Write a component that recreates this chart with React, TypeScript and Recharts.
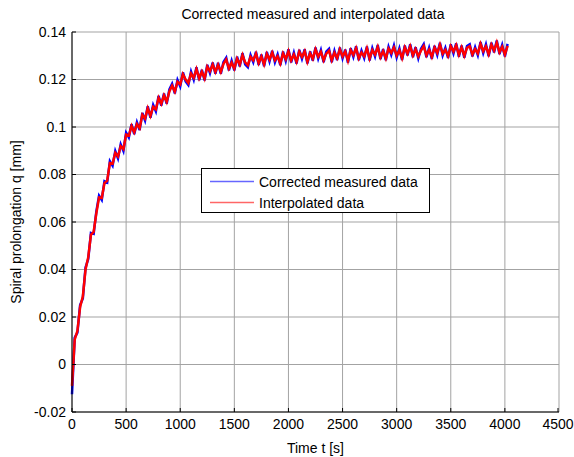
import React from 'react';
import { LineChart, Line, XAxis, YAxis, CartesianGrid, Legend } from 'recharts';

// sample times [s]
const times = [
  0, 25, 50, 75, 100, 125, 150, 175, 200, 225,
  250, 275, 300, 325, 350, 375, 400, 425, 450, 475,
  500, 525, 550, 575, 600, 625, 650, 675, 700, 725,
  750, 775, 800, 825, 850, 875, 900, 925, 950, 975,
  1000, 1025, 1050, 1075, 1100, 1125, 1150, 1175, 1200, 1225,
  1250, 1275, 1300, 1325, 1350, 1375, 1400, 1425, 1450, 1475,
  1500, 1525, 1550, 1575, 1600, 1625, 1650, 1675, 1700, 1725,
  1750, 1775, 1800, 1825, 1850, 1875, 1900, 1925, 1950, 1975,
  2000, 2025, 2050, 2075, 2100, 2125, 2150, 2175, 2200, 2225,
  2250, 2275, 2300, 2325, 2350, 2375, 2400, 2425, 2450, 2475,
  2500, 2525, 2550, 2575, 2600, 2625, 2650, 2675, 2700, 2725,
  2750, 2775, 2800, 2825, 2850, 2875, 2900, 2925, 2950, 2975,
  3000, 3025, 3050, 3075, 3100, 3125, 3150, 3175, 3200, 3225,
  3250, 3275, 3300, 3325, 3350, 3375, 3400, 3425, 3450, 3475,
  3500, 3525, 3550, 3575, 3600, 3625, 3650, 3675, 3700, 3725,
  3750, 3775, 3800, 3825, 3850, 3875, 3900, 3925, 3950, 3975,
  4000, 4025,
];

// corrected measured data [mm]
const measured = [
  -0.0125, 0.0113, 0.0134, 0.0250, 0.0278, 0.0408, 0.0444, 0.0554, 0.0550, 0.0645,
  0.0711, 0.0693, 0.0772, 0.0766, 0.0856, 0.0837, 0.0899, 0.0868, 0.0927, 0.0899,
  0.0976, 0.0956, 0.1012, 0.0970, 0.1020, 0.0987, 0.1059, 0.1027, 0.1087, 0.1039,
  0.1093, 0.1066, 0.1131, 0.1090, 0.1141, 0.1098, 0.1158, 0.1182, 0.1141, 0.1198,
  0.1171, 0.1230, 0.1192, 0.1177, 0.1233, 0.1199, 0.1252, 0.1197, 0.1241, 0.1196,
  0.1262, 0.1227, 0.1271, 0.1224, 0.1270, 0.1224, 0.1274, 0.1292, 0.1238, 0.1279,
  0.1238, 0.1296, 0.1255, 0.1311, 0.1264, 0.1252, 0.1303, 0.1273, 0.1317, 0.1261,
  0.1305, 0.1256, 0.1316, 0.1276, 0.1321, 0.1273, 0.1306, 0.1260, 0.1318, 0.1278,
  0.1327, 0.1272, 0.1313, 0.1267, 0.1325, 0.1287, 0.1327, 0.1267, 0.1318, 0.1279,
  0.1335, 0.1288, 0.1324, 0.1273, 0.1317, 0.1329, 0.1273, 0.1321, 0.1282, 0.1335,
  0.1289, 0.1326, 0.1271, 0.1332, 0.1295, 0.1340, 0.1281, 0.1322, 0.1290, 0.1339,
  0.1280, 0.1332, 0.1297, 0.1345, 0.1286, 0.1328, 0.1281, 0.1338, 0.1304, 0.1343,
  0.1293, 0.1331, 0.1282, 0.1343, 0.1301, 0.1348, 0.1294, 0.1336, 0.1289, 0.1330,
  0.1349, 0.1294, 0.1333, 0.1287, 0.1342, 0.1304, 0.1355, 0.1301, 0.1333, 0.1291,
  0.1348, 0.1310, 0.1352, 0.1296, 0.1343, 0.1292, 0.1341, 0.1348, 0.1297, 0.1336,
  0.1302, 0.1358, 0.1311, 0.1348, 0.1298, 0.1355, 0.1314, 0.1364, 0.1307, 0.1346,
  0.1297, 0.1350,
];

// interpolated data [mm]
const interpolated = [
  -0.0090, 0.0105, 0.0142, 0.0242, 0.0286, 0.0400, 0.0452, 0.0546, 0.0558, 0.0637,
  0.0703, 0.0701, 0.0764, 0.0774, 0.0848, 0.0845, 0.0891, 0.0876, 0.0919, 0.0907,
  0.0968, 0.0964, 0.1004, 0.0978, 0.1012, 0.0995, 0.1051, 0.1035, 0.1079, 0.1047,
  0.1085, 0.1074, 0.1123, 0.1098, 0.1133, 0.1106, 0.1150, 0.1174, 0.1149, 0.1190,
  0.1179, 0.1222, 0.1200, 0.1185, 0.1225, 0.1207, 0.1244, 0.1205, 0.1233, 0.1204,
  0.1254, 0.1235, 0.1263, 0.1232, 0.1262, 0.1232, 0.1266, 0.1284, 0.1246, 0.1271,
  0.1246, 0.1288, 0.1263, 0.1303, 0.1272, 0.1260, 0.1295, 0.1281, 0.1309, 0.1269,
  0.1297, 0.1264, 0.1308, 0.1284, 0.1313, 0.1281, 0.1298, 0.1268, 0.1310, 0.1286,
  0.1319, 0.1280, 0.1305, 0.1275, 0.1317, 0.1295, 0.1319, 0.1275, 0.1310, 0.1287,
  0.1327, 0.1296, 0.1316, 0.1281, 0.1309, 0.1321, 0.1281, 0.1313, 0.1290, 0.1327,
  0.1297, 0.1318, 0.1279, 0.1324, 0.1303, 0.1332, 0.1289, 0.1314, 0.1298, 0.1331,
  0.1288, 0.1324, 0.1305, 0.1337, 0.1294, 0.1320, 0.1289, 0.1330, 0.1312, 0.1335,
  0.1301, 0.1323, 0.1290, 0.1335, 0.1309, 0.1340, 0.1302, 0.1328, 0.1297, 0.1322,
  0.1341, 0.1302, 0.1325, 0.1295, 0.1334, 0.1312, 0.1347, 0.1309, 0.1325, 0.1299,
  0.1340, 0.1318, 0.1344, 0.1304, 0.1335, 0.1300, 0.1333, 0.1340, 0.1305, 0.1328,
  0.1310, 0.1350, 0.1319, 0.1340, 0.1306, 0.1347, 0.1322, 0.1356, 0.1315, 0.1338,
  0.1305, 0.1342,
];

const xTicks = [0, 500, 1000, 1500, 2000, 2500, 3000, 3500, 4000, 4500];
const yTicks = [-0.02, 0, 0.02, 0.04, 0.06, 0.08, 0.1, 0.12, 0.14];

const data = times.map((t, i) => ({ t, measured: measured[i], interpolated: interpolated[i] }));

const FONT = '"Liberation Sans", Arial, Helvetica, sans-serif';
const fmtY = (v: number) => String(Number(v.toFixed(2)));

// MATLAB style: ticks point into the plot area
const BottomTick = (props: any) => {
  const { x, y, payload } = props;
  const axisY = y - 7;
  return (
    <g>
      <line x1={x} x2={x} y1={axisY} y2={axisY - 4} stroke="#000" />
      <text x={x} y={y} dy="0.71em" textAnchor="middle" fontSize={14} fill="#000" fontFamily={FONT}>
        {payload.value}
      </text>
    </g>
  );
};

const LeftTick = (props: any) => {
  const { x, y, payload } = props;
  const axisX = x + 6;
  return (
    <g>
      <line x1={axisX} x2={axisX + 4} y1={y} y2={y} stroke="#000" />
      <text x={x} y={y} dy="0.355em" textAnchor="end" fontSize={14} fill="#000" fontFamily={FONT}>
        {fmtY(payload.value)}
      </text>
    </g>
  );
};

const TopTick = (props: any) => {
  const { x, y } = props;
  return <line x1={x} x2={x} y1={y} y2={y + 4} stroke="#000" />;
};

const RightTick = (props: any) => {
  const { x, y } = props;
  return <line x1={x} x2={x - 4} y1={y} y2={y} stroke="#000" />;
};

const LegendBox = (props: any) => {
  const { payload } = props;
  return (
    <div
      style={{
        width: 229,
        height: 45,
        border: '1px solid #000',
        background: '#fff',
        fontFamily: FONT,
        fontSize: 14,
        color: '#000',
        boxSizing: 'border-box',
        paddingTop: 2,
      }}
    >
      {(payload || []).map((entry: any) => (
        <div key={entry.value} style={{ display: 'flex', alignItems: 'center', height: 21 }}>
          <svg width={57} height={21}>
            <line x1={8} x2={52} y1={10.5} y2={10.5} stroke={entry.color} strokeOpacity={0.6} strokeWidth={1.5} />
          </svg>
          <span>{entry.value}</span>
        </div>
      ))}
    </div>
  );
};

const App: React.FC = () => {
  return (
    <div style={{ position: 'absolute', left: 0, top: 0, width: 574, height: 457, background: '#fff' }}>
      <div
        style={{
          position: 'absolute',
          left: 50,
          width: 526,
          top: 6,
          textAlign: 'center',
          fontFamily: FONT,
          fontSize: 14,
          color: '#000',
          lineHeight: '16px',
        }}
      >
        Corrected measured and interpolated data
      </div>
      <LineChart
        width={574}
        height={457}
        data={data}
        margin={{ top: 32, right: 15, bottom: 0, left: 0 }}
        style={{ fontFamily: FONT }}
      >
        <CartesianGrid stroke="#a3a3a3" strokeWidth={1} />
        <XAxis
          dataKey="t"
          type="number"
          domain={[0, 4500]}
          ticks={xTicks}
          height={45}
          tickSize={0}
          tickMargin={7}
          tick={<BottomTick />}
          axisLine={{ stroke: '#000' }}
          label={{ value: 'Time t [s]', position: 'insideBottom', offset: 4, fontSize: 14, fill: '#000' }}
        />
        <XAxis
          xAxisId="top"
          orientation="top"
          dataKey="t"
          type="number"
          domain={[0, 4500]}
          ticks={xTicks}
          height={0}
          tickSize={0}
          tickMargin={0}
          tick={<TopTick />}
          axisLine={{ stroke: '#666' }}
        />
        <YAxis
          type="number"
          domain={[-0.02, 0.14]}
          ticks={yTicks}
          width={72}
          tickSize={0}
          tickMargin={6}
          tick={<LeftTick />}
          axisLine={{ stroke: '#000' }}
          allowDataOverflow
          label={{ value: 'Spiral prolongation q [mm]', angle: -90, position: 'center', dx: -20, fontSize: 14, fill: '#000' }}
        />
        <YAxis
          yAxisId="right"
          orientation="right"
          type="number"
          domain={[-0.02, 0.14]}
          ticks={yTicks}
          width={0}
          tickSize={0}
          tickMargin={0}
          tick={<RightTick />}
          axisLine={{ stroke: '#666' }}
        />
        <Legend
          layout="vertical"
          align="center"
          verticalAlign="middle"
          content={<LegendBox />}
          wrapperStyle={{ left: 201, top: 168, width: 229, height: 45 }}
        />
        <Line
          name="Corrected measured data"
          dataKey="measured"
          stroke="#0000ff"
          strokeWidth={2.5}
          strokeLinejoin="miter"
          dot={false}
          type="linear"
          isAnimationActive={false}
        />
        <Line
          name="Interpolated data"
          dataKey="interpolated"
          stroke="#ff0000"
          strokeWidth={2.5}
          strokeLinejoin="miter"
          dot={false}
          type="linear"
          isAnimationActive={false}
        />
      </LineChart>
    </div>
  );
};

export default App;
